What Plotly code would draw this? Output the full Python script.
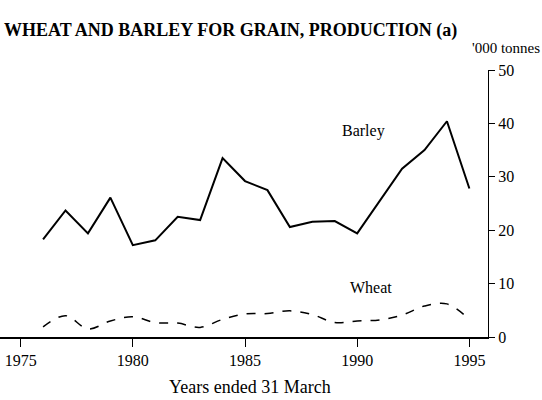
import plotly.graph_objects as go

years = list(range(1976, 1996))
barley = [18.3, 23.7, 19.4, 26.1, 17.2, 18.1, 22.5, 21.9, 33.5, 29.2,
          27.5, 20.6, 21.6, 21.7, 19.4, 25.5, 31.5, 35.0, 40.4, 27.8]
wheat = [1.9, 4.0, 1.5, 3.0, 3.8, 2.7, 2.6, 1.8, 3.3, 4.3,
         4.4, 4.9, 4.2, 2.7, 3.0, 3.2, 4.1, 5.8, 6.2, 3.3]
x_ticks = [1975, 1980, 1985, 1990, 1995]
y_ticks = [0, 10, 20, 30, 40, 50]

SERIF = "Liberation Serif, Times New Roman, serif"

fig = go.Figure()
fig.add_trace(go.Scatter(x=years, y=barley, mode="lines", name="Barley",
                         line=dict(color="black", width=2)))
fig.add_trace(go.Scatter(x=years, y=wheat, mode="lines", name="Wheat",
                         line=dict(color="black", width=1.5, dash="dash", shape="spline")))

fig.update_layout(
    width=542, height=400,
    margin=dict(l=0, r=54, t=70, b=63),
    paper_bgcolor="white", plot_bgcolor="white",
    showlegend=False,
    font=dict(family=SERIF, color="black", size=16),
    xaxis=dict(range=[1974.08, 1995.83], tickvals=x_ticks, ticks="outside",
               ticklen=8, tickwidth=1, tickcolor="black",
               showline=True, linecolor="black", linewidth=1.5,
               showgrid=False, zeroline=False,
               tickfont=dict(family=SERIF, size=16)),
    yaxis=dict(range=[0, 50], tickvals=y_ticks, side="right", ticks="outside",
               ticklen=6, tickwidth=1, tickcolor="black",
               showline=True, linecolor="black", linewidth=1,
               showgrid=False, zeroline=False,
               tickfont=dict(family=SERIF, size=16)),
    annotations=[
        dict(text="<b>WHEAT AND BARLEY FOR GRAIN, PRODUCTION (a)</b>",
             xref="paper", yref="paper", x=0, y=1,
             xanchor="left", yanchor="middle", showarrow=False,
             font=dict(family=SERIF, size=18),
             yshift=40, xshift=2),
        dict(text="'000 tonnes", xref="paper", yref="paper", x=1, y=1,
             xanchor="right", yanchor="middle", showarrow=False,
             font=dict(family=SERIF, size=15), xshift=54, yshift=22),
        dict(text="Barley", x=1990.3, y=38.5, showarrow=False,
             font=dict(family=SERIF, size=16)),
        dict(text="Wheat", x=1990.6, y=9.35, showarrow=False,
             font=dict(family=SERIF, size=16)),
        dict(text="Years ended 31 March", xref="paper", yref="paper",
             x=0.512, y=0, yanchor="middle", showarrow=False,
             font=dict(family=SERIF, size=18), yshift=-50),
    ],
)

fig.write_html("out.html", config={"displayModeBar": False},
               post_script="document.body.style.margin='0';")
